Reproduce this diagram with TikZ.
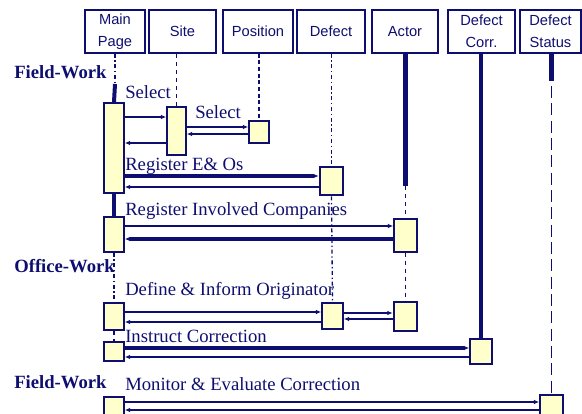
\documentclass[tikz,border=0pt]{standalone}
\usepackage{fontspec}
\setmainfont{Liberation Serif}
\newfontfamily\headfont{Liberation Sans}
\definecolor{seqNavy}{RGB}{14,14,112}
\definecolor{seqYellow}{RGB}{255,255,204}
\usetikzlibrary{arrows.meta,positioning,fit,calc}

\begin{document}
\begin{tikzpicture}[x=0.75pt, y=-0.75pt,
    head/.style={rectangle, draw=seqNavy, line width=1.2pt, minimum height=32.25pt,
                 font=\headfont\fontsize{11}{16.5}\selectfont, text=seqNavy,
                 align=center, inner sep=1pt},
    act/.style={rectangle, draw=seqNavy, fill=seqYellow, line width=1.2pt, inner sep=0pt},
    msg/.style={draw=seqNavy, line width=1pt, -{Latex[length=4pt,width=3.5pt]}},
    heavymsg/.style={msg, line width=2.3pt},
    life/.style={draw=seqNavy, line width=1pt},
    msgtext/.style={font=\fontsize{14}{16}\selectfont, text=seqNavy,
                    anchor=base west, inner sep=0pt},
    phase/.style={font=\bfseries\fontsize{14}{16}\selectfont, text=seqNavy,
                  anchor=base west, inner sep=0pt}
  ]
  \useasboundingbox (0,0) rectangle (582,414);

  % object heads
  \node[head, minimum width=45pt]    (main)   at (115,31.5)   {Main\\Page};
  \node[head, minimum width=50.25pt] (site)   at (182.5,31.5) {Site};
  \node[head, minimum width=52.5pt]  (pos)    at (258,31.5)   {Position};
  \node[head, minimum width=51pt]    (defect) at (331,31.5)   {Defect};
  \node[head, minimum width=49.5pt]  (actor)  at (405,31.5)   {Actor};
  \node[head, minimum width=50.25pt] (corr)   at (481.5,31.5) {Defect\\Corr.};
  \node[head, minimum width=45.75pt] (status) at (550.5,31.5) {Defect\\Status};

  % activations
  \node[act, fit={(104,103) (124,193)}] (m1) {};
  \node[act, fit={(167,107) (186,155)}] (s1) {};
  \node[act, fit={(249,121) (269,143)}] (p1) {};
  \node[act, fit={(320,167) (343,195)}, line width=2pt] (d1) {};
  \node[act, fit={(104,217) (124,252)}] (m2) {};
  \node[act, fit={(394,219) (417,252)}] (a1) {};
  \node[act, fit={(104,303) (124,330)}] (m3) {};
  \node[act, fit={(322,303) (343,329)}] (d2) {};
  \node[act, fit={(394,302) (417,331)}, line width=2pt] (a2) {};
  \node[act, fit={(104,342) (124,361)}] (m4) {};
  \node[act, fit={(470,339) (492,364)}] (c1) {};
  \node[act, fit={(104,397) (124,420)}] (m5) {};
  \node[act, fit={(540,395) (563,420)}] (st1) {};

  % lifelines
  \draw[life, dash dot] (main.south) -- (main.south |- 0,84);
  \draw[life, line width=3pt] (main.south |- 0,84) -- (m1.north);
  \draw[life, line width=3pt] (m1.south) -- (m2.north);
  \draw[life, dash dot] (m2.south) -- (m3.north);
  \draw[life, dashed] (m3.south) -- (m4.north);
  \draw[life, dashed] (s1.north |- site.south) -- (s1.north);
  \draw[life, densely dashed] (p1.north |- pos.south) -- (p1.north);
  \draw[life, dash dot] (d1.north |- defect.south) -- (d1.north);
  \draw[life, dash dot] (d1.south) -- (d2.north);
  \draw[life, line width=3.2pt] (a1.north |- actor.south) -- (a1.north |- 0,186);
  \draw[life, dashed] (a1.north |- 0,186) -- (a1.north);
  \draw[life, dashed] (a1.south) -- (a2.north);
  \draw[life, line width=3.2pt] (c1.north |- corr.south) -- (c1.north);
  \draw[life, line width=3.2pt] (st1.north |- status.south) -- (st1.north |- 0,81);
  \draw[life, line width=1.4pt, dash pattern=on 9pt off 4pt] (st1.north |- 0,86) -- (st1.north);

  % phases
  \node[phase] (fw1) at (14,78)  {Field-Work};
  \node[phase] (ow)  at (14,272) {Office-Work};
  \node[phase] (fw2) at (14,388) {Field-Work};

  % messages
  \node[msgtext] (tsel1) at (125,98)  {Select};
  \draw[msg] (m1.east |- 0,117) -- (s1.west |- 0,117);
  \draw[msg] (s1.west |- 0,143) -- (m1.east |- 0,143);
  \node[msgtext] (tsel2) at (195,118) {Select};
  \draw[msg] (s1.east |- 0,127) -- (p1.west |- 0,127);
  \draw[msg] (p1.west |- 0,134) -- (s1.east |- 0,134);

  \node[msgtext] (treg) at (125,170) {Register E\& Os};
  \draw[heavymsg] (m1.east |- 0,176) -- (d1.west |- 0,176);
  \draw[msg, line width=1.8pt] (d1.west |- 0,187) -- (m1.east |- 0,187);

  \node[msgtext] (tinv) at (125,215) {Register Involved Companies};
  \draw[msg] (m2.east |- 0,226) -- (a1.west |- 0,226);
  \draw[heavymsg] (a1.west |- 0,239) -- (m2.east |- 0,239);

  \node[msgtext] (tdef) at (125,295) {Define \& Inform Originator};
  \draw[msg] (m3.east |- 0,312) -- (d2.west |- 0,312);
  \draw[msg] (d2.west |- 0,322) -- (m3.east |- 0,322);
  \draw[msg] (d2.east |- 0,313) -- (a2.west |- 0,313);
  \draw[msg] (a2.west |- 0,319) -- (d2.east |- 0,319);

  \node[msgtext] (tins) at (125,342) {Instruct Correction};
  \draw[heavymsg] (m4.east |- 0,348) -- (c1.west |- 0,348);
  \draw[msg] (c1.west |- 0,357) -- (m4.east |- 0,357);

  \node[msgtext] (tmon) at (125,390) {Monitor \& Evaluate Correction};
  \draw[msg] (m5.east |- 0,402) -- (st1.west |- 0,402);
  \draw[msg] (st1.west |- 0,410) -- (m5.east |- 0,410);
\end{tikzpicture}
\end{document}
